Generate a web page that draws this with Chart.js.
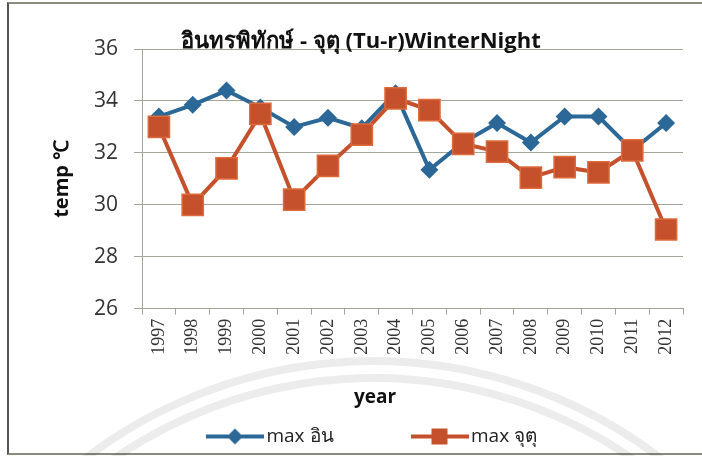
<!DOCTYPE html>
<html>
<head>
<meta charset="utf-8">
<script src="https://cdn.jsdelivr.net/npm/chart.js@4"></script>
<style>
  html, body { margin: 0; padding: 0; background: #fff; overflow: hidden; }
  #wrap { position: relative; width: 702px; height: 456px; overflow: hidden; background: #fff; }
  #frame { position: absolute; left: 7px; top: 2px; width: 800px; height: 449px;
           border-left: 2px solid #555; border-top: 2px solid #8a8a80; border-bottom: 2px solid #8a8a80; }
  canvas { position: absolute; left: 0; top: 0; }
</style>
</head>
<body>
<div id="wrap">
  <div id="frame"></div>
  <canvas id="chart" width="750" height="456"></canvas>
</div>
<script>
// Winter night maximum temperatures, 1997-2012
const years = ['1997','1998','1999','2000','2001','2002','2003','2004',
               '2005','2006','2007','2008','2009','2010','2011','2012'];
const maxIn = [33.4, 33.85, 34.4, 33.75, 33.0, 33.35, 32.95, 34.3,
               31.35, 32.4, 33.15, 32.4, 33.4, 33.4, 32.1, 33.15];
const maxJu = [33.0, 30.0, 31.4, 33.5, 30.2, 31.5, 32.7, 34.1,
               33.65, 32.35, 32.05, 31.05, 31.45, 31.25, 32.1, 29.05];
const yTicks = [26, 28, 30, 32, 34, 36];

const seriesNames = ['max อิน', 'max จุตุ'];
const titleText = 'อินทรพิทักษ์ - จุตุ (Tu-r)WinterNight';
const xTitle = 'year';
const yTitle = 'temp ℃';

const BLUE = '#2b6897';
const RED = '#c4512b';
const GRID = '#a4a497';

// Line-with-marker swatches for the legend
function swatch(color, shape) {
  const c = document.createElement('canvas');
  c.width = 58; c.height = 20;
  const g = c.getContext('2d');
  g.strokeStyle = color; g.lineWidth = 4;
  g.beginPath(); g.moveTo(0, 10); g.lineTo(58, 10); g.stroke();
  g.fillStyle = color;
  if (shape === 'diamond') {
    g.beginPath(); g.moveTo(29, 2); g.lineTo(37, 10); g.lineTo(29, 18); g.lineTo(21, 10);
    g.closePath(); g.fill();
  } else {
    g.fillRect(21, 2, 16, 16);
  }
  return c;
}
const swatches = [swatch(BLUE, 'diamond'), swatch(RED, 'square')];

// Faint circular emblem printed behind the lower part of the figure
const emblemPlugin = {
  id: 'emblem',
  beforeDraw(chart) {
    const ctx = chart.ctx;
    ctx.save();
    ctx.strokeStyle = 'rgba(0,0,0,0.075)';
    ctx.lineWidth = 8;
    [473, 456].forEach(r => {
      ctx.beginPath();
      ctx.arc(373, 834, r, Math.PI * 1.1, Math.PI * 1.9);
      ctx.stroke();
    });
    ctx.restore();
  }
};

// Chart heading, drawn across the top of the plot
const headingPlugin = {
  id: 'heading',
  afterDraw(chart) {
    const ctx = chart.ctx;
    ctx.save();
    ctx.font = 'bold 22px "Open Sans", sans-serif';
    ctx.fillStyle = '#111';
    ctx.textAlign = 'center';
    ctx.textBaseline = 'middle';
    ctx.fillText(titleText, 361, 42);
    ctx.restore();
  }
};

new Chart(document.getElementById('chart'), {
  type: 'line',
  data: {
    labels: years,
    datasets: [
      {
        label: seriesNames[0],
        data: maxIn,
        borderColor: BLUE,
        backgroundColor: BLUE,
        borderWidth: 4,
        pointStyle: 'rectRot',
        pointRadius: 9,
        pointHoverRadius: 9,
        pointBorderWidth: 0,
        tension: 0,
        order: 2
      },
      {
        label: seriesNames[1],
        data: maxJu,
        borderColor: RED,
        backgroundColor: RED,
        borderWidth: 4,
        pointStyle: 'rect',
        pointRadius: 15,
        pointHoverRadius: 15,
        pointBorderColor: '#dd6a3c',
        pointBorderWidth: 1.5,
        tension: 0,
        order: 1
      }
    ]
  },
  options: {
    responsive: false,
    animation: false,
    events: [],
    layout: { padding: { top: 49, left: 0, right: 0, bottom: 0 } },
    plugins: {
      title: { display: false },
      tooltip: { enabled: false },
      legend: {
        position: 'bottom',
        align: 'center',
        title: {
          display: true,
          text: xTitle,
          color: '#111',
          font: { family: 'Open Sans', size: 19, weight: 'bold' },
          padding: { top: 0, bottom: 8 }
        },
        labels: {
          usePointStyle: true,
          pointStyleWidth: 44,
          padding: 8,
          color: '#222',
          font: { family: 'Open Sans', size: 19 },
          generateLabels(chart) {
            const items = Chart.defaults.plugins.legend.labels.generateLabels(chart);
            items.sort((a, b) => a.datasetIndex - b.datasetIndex);
            items.forEach(it => {
              it.pointStyle = swatches[it.datasetIndex];
              // wide gap between the two legend entries
              if (it.datasetIndex === 0) it.text += '\u2003\u2003\u2003\u2003';
            });
            return items;
          }
        }
      }
    },
    scales: {
      x: {
        offset: true,
        grid: { offset: true, drawOnChartArea: false, tickLength: 6, color: GRID },
        border: { color: GRID },
        ticks: {
          autoSkip: false, maxRotation: 90, minRotation: 90, padding: 4,
          color: '#333', font: { family: 'Liberation Serif', size: 18 }
        },
        afterFit(s) { s.height = 79.5; }
      },
      y: {
        min: yTicks[0],
        max: yTicks[yTicks.length - 1],
        afterBuildTicks(s) { s.ticks = yTicks.map(v => ({ value: v })); },
        grid: { color: GRID, tickLength: 8, tickColor: GRID },
        border: { color: GRID },
        ticks: { padding: 16, color: '#333', font: { family: 'Open Sans', size: 21 } },
        title: {
          display: true, text: yTitle, color: '#111',
          font: { family: 'Open Sans', size: 20, weight: 'bold' },
          padding: { top: 50, bottom: 0 }
        },
        afterFit(s) { s.width = 142; }
      },
      yRight: {
        position: 'right',
        display: true,
        grid: { display: false, drawTicks: false },
        border: { display: false },
        ticks: { display: false },
        afterFit(s) { s.width = 67; }
      }
    }
  },
  plugins: [emblemPlugin, headingPlugin]
});
</script>
</body>
</html>
